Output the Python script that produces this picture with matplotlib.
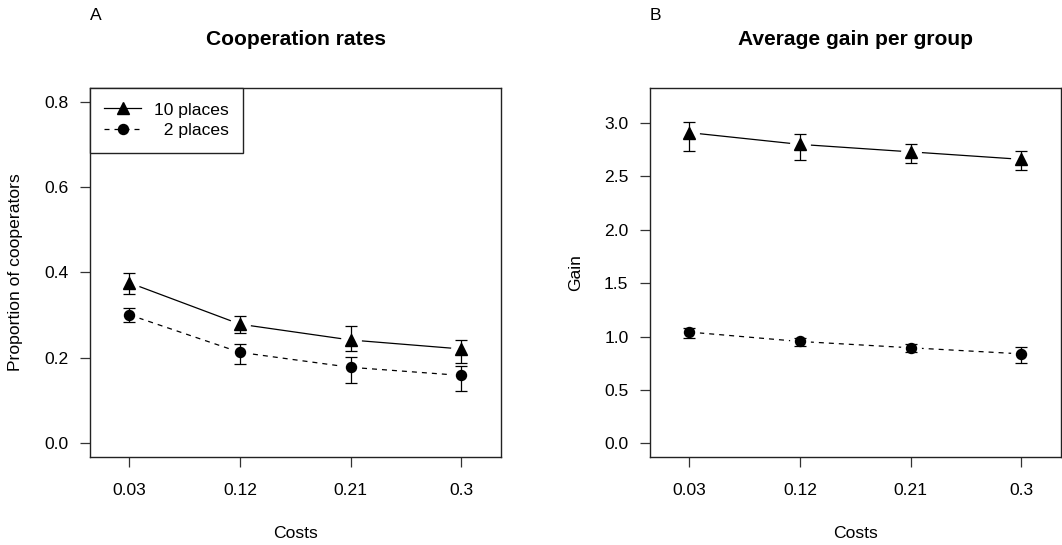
import matplotlib
matplotlib.use("Agg")
import matplotlib.pyplot as plt
from matplotlib.lines import Line2D
import numpy as np

plt.rcParams['font.family'] = ['Liberation Sans', 'DejaVu Sans']

# dados
custos = ['0.03', '0.12', '0.21', '0.3']
series = ['10 places', '\u20072 places']

# A - taxa de cooperacao
coop_10 = [0.376, 0.279, 0.242, 0.221]
coop_10_lo = [0.349, 0.258, 0.217, 0.189]
coop_10_hi = [0.398, 0.299, 0.274, 0.242]
coop_2 = [0.301, 0.213, 0.178, 0.159]
coop_2_lo = [0.284, 0.186, 0.141, 0.122]
coop_2_hi = [0.318, 0.233, 0.202, 0.182]

# B - ganho medio por grupo
gain_10 = [2.91, 2.80, 2.73, 2.66]
gain_10_lo = [2.738, 2.657, 2.622, 2.56]
gain_10_hi = [3.01, 2.898, 2.807, 2.735]
gain_2 = [1.042, 0.954, 0.895, 0.838]
gain_2_lo = [0.989, 0.914, 0.851, 0.754]
gain_2_hi = [1.076, 0.989, 0.935, 0.904]

FS = 12.6
x = np.arange(1, len(custos) + 1)

fig = plt.figure(figsize=(10.62, 5.45), dpi=100)
axA = fig.add_axes([90 / 1062, 1 - 457 / 545, 411 / 1062, 369 / 545])
axB = fig.add_axes([650 / 1062, 1 - 457 / 545, 411 / 1062, 369 / 545])


def serie(ax, y, lo, hi, marker, ls, ms):
    y = np.array(y)
    ax.plot(x, y, color='black', lw=0.9, ls=ls, dashes=(4, 4) if ls == '--' else (None, None), zorder=2)
    # "buraco" em volta do ponto, como type='b' do R
    ax.plot(x, y, 'o', color='white', ms=14, zorder=2.5)
    ax.errorbar(x, y, yerr=[y - np.array(lo), np.array(hi) - y], fmt='none',
                ecolor='black', elinewidth=0.9, capsize=4.3, capthick=0.9, zorder=3)
    ax.plot(x, y, marker, color='black', ms=ms, ls='none', zorder=4)


def eixo(ax, ylim, yticks, ylabel, title, letra):
    ax.set_xlim(0.645, 4.36)
    ax.set_ylim(*ylim)
    ax.set_xticks(x)
    ax.set_xticklabels(custos)
    ax.set_yticks(yticks)
    ax.set_yticklabels(['%.1f' % t for t in yticks])
    ax.tick_params(axis='both', direction='out', length=7.5, width=0.9, labelsize=FS, color='#333333')
    ax.tick_params(axis='x', pad=11)
    ax.tick_params(axis='y', pad=8)
    for s in ax.spines.values():
        s.set_linewidth(1.0)
        s.set_color('#222222')
    ax.set_xlabel('Costs', fontsize=FS, va='center')
    ax.xaxis.set_label_coords(0.5, -76 / 369)
    ax.set_ylabel(ylabel, fontsize=FS, va='center')
    ax.yaxis.set_label_coords(-0.181, 0.5)
    ax.set_title(title, fontsize=15.1, fontweight='bold', pad=31)
    ax.text(0.0, 1 + 73 / 369, letra, transform=ax.transAxes, fontsize=FS, va='center', ha='left')


serie(axA, coop_10, coop_10_lo, coop_10_hi, '^', '-', 8)
serie(axA, coop_2, coop_2_lo, coop_2_hi, 'o', '--', 7.2)
serie(axB, gain_10, gain_10_lo, gain_10_hi, '^', '-', 8)
serie(axB, gain_2, gain_2_lo, gain_2_hi, 'o', '--', 7.2)

eixo(axA, (-0.032, 0.832), [0.0, 0.2, 0.4, 0.6, 0.8], 'Proportion of cooperators', 'Cooperation rates', 'A')
eixo(axB, (-0.128, 3.328), [0.0, 0.5, 1.0, 1.5, 2.0, 2.5, 3.0], 'Gain', 'Average gain per group', 'B')

handles = [Line2D([], [], color='black', lw=0.9, marker='^', ms=8),
           Line2D([], [], color='black', lw=0.9, ls='--', dashes=(4, 4), marker='o', ms=7.2)]
leg = axA.legend(handles, series, loc='upper left', borderaxespad=0, fancybox=False,
                 edgecolor='#222222', framealpha=1, fontsize=FS, numpoints=1,
                 handlelength=2.1, handletextpad=0.75, borderpad=0.82, labelspacing=0.31)
leg.get_frame().set_linewidth(1.0)

plt.savefig('out.png', dpi=100)
